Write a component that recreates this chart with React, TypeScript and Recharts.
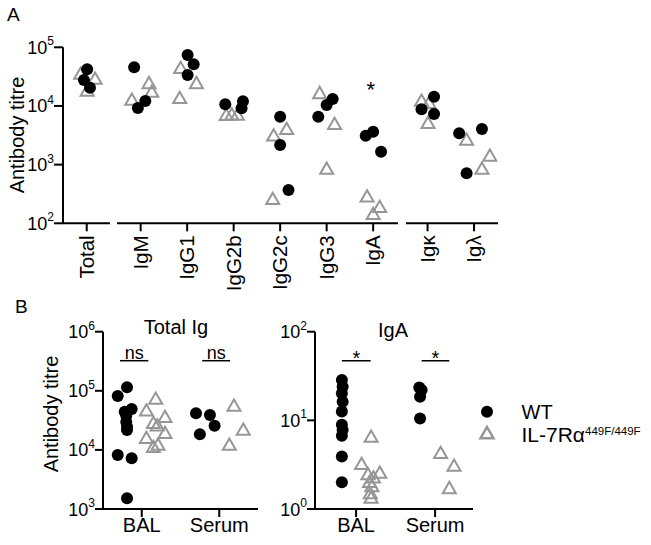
import React from "react";
import { ScatterChart, Scatter, XAxis, YAxis, ReferenceLine, ReferenceDot } from "recharts";

const FONT = "Arial, 'Liberation Sans', Helvetica, sans-serif";
const GREY = "#969696";
const W = 651;
const H = 545;

// Panel A: antibody titres by isotype (3 mice per group)
const CATS_A = ["Total", "IgM", "IgG1", "IgG2b", "IgG2c", "IgG3", "IgA", "Igκ", "Igλ"];
const WT_A = [
  [42200, 27700, 20500],
  [45600, 9230, 12160],
  [73900, 51300, 33700],
  [10670, 12020, 9120],
  [6560, 2160, 370],
  [6560, 10400, 13150],
  [3110, 3640, 1660],
  [14400, 8770, 7300],
  [3420, 4050, 711],
];
const WT_A_JIT = [
  [0.01, -0.06, 0.07],
  [-0.14, -0.06, 0.1],
  [0.01, 0.14, 0.01],
  [-0.18, 0.2, 0.17],
  [0, 0, 0.18],
  [-0.18, 0, 0.13],
  [-0.16, 0, 0.17],
  [0.14, -0.13, 0.14],
  [-0.32, 0.17, -0.16],
];
const MUT_A = [
  [35100, 28800, 18000],
  [12650, 24300, 17300],
  [43900, 24300, 13500],
  [6950, 7100, 7000],
  [3110, 4000, 257],
  [16400, 4870, 843],
  [284, 188, 143],
  [12150, 11200, 5060],
  [2630, 1400, 843],
];
const MUT_A_JIT = [
  [-0.13, 0.18, 0.01],
  [-0.19, 0.18, 0.24],
  [-0.14, 0.2, -0.16],
  [-0.16, -0.04, 0.08],
  [-0.14, 0.14, -0.16],
  [-0.15, 0.17, 0],
  [-0.13, 0.14, 0],
  [-0.13, 0.03, 0.01],
  [-0.16, 0.34, 0.17],
];
const TICKS_A = [100, 1000, 10000, 100000];

// Panel B: BAL and serum
const CATS_B = ["BAL", "Serum"];
const TOTAL_WT = [
  [114500, 81700, 49200, 44300, 37900, 29600, 24700, 21700, 8200, 7200, 1520],
  [41600, 38900, 25700, 18400],
];
const TOTAL_WT_JIT = [
  [-0.19, -0.31, -0.13, -0.22, -0.2, -0.2, -0.19, -0.19, -0.31, -0.13, -0.19],
  [-0.3, -0.12, -0.06, -0.25],
];
const TOTAL_MUT = [
  [72600, 46000, 35600, 28200, 25700, 19100, 15700, 12100, 11070],
  [55300, 21700, 12100],
];
const TOTAL_MUT_JIT = [
  [0.18, 0.06, 0.3, 0.15, 0.2, 0.3, 0.06, 0.21, 0.15],
  [0.19, 0.31, 0.13],
];
const IGA_WT = [
  [28.5, 24, 20.2, 16.2, 12.6, 8.9, 7.8, 6.7, 3.9, 2.0],
  [23.5, 22, 18.5, 10.5],
];
const IGA_WT_JIT = [
  [-0.18, -0.17, -0.18, -0.17, -0.18, -0.18, -0.17, -0.18, -0.18, -0.18],
  [-0.2, -0.17, -0.19, -0.19],
];
const IGA_MUT = [
  [6.5, 3.2, 2.55, 2.45, 2.25, 2.0, 1.8, 1.5, 1.33],
  [4.25, 3.05, 1.71],
];
const IGA_MUT_JIT = [
  [0.19, 0.07, 0.3, 0.15, 0.22, 0.17, 0.2, 0.18, 0.19],
  [0.07, 0.24, 0.18],
];
const TICKS_TOTAL = [1000, 10000, 100000, 1000000];
const TICKS_IGA = [1, 10, 100];
const SIG_TOTAL = ["ns", "ns"];
const SIG_IGA = ["*", "*"];

// layout: category positions and broken-axis pieces
const POS_A = [0, 1.16, 2.16, 3.16, 4.16, 5.16, 6.16, 7.33, 8.33];
const AXIS_A_PIECES = [
  [-0.51, 0.5],
  [0.652, 6.695],
  [6.866, 8.845],
];
const POS_B = [0, 1];
const BAR_TOTAL = [
  [-0.28, 0.085],
  [-0.22, 0.14],
];
const BAR_IGA = [
  [-0.18, 0.185],
  [-0.17, 0.18],
];

const toPoints = (values: number[][], jitter: number[][], pos: number[]) =>
  values.flatMap((vals, i) => vals.map((v, j) => ({ x: pos[i] + jitter[i][j], y: v })));

const Dot = (p: any) => <circle cx={p.cx} cy={p.cy} r={6} fill="#000" />;
const Tri = (p: any) => (
  <polygon
    points={`${p.cx},${p.cy - 6.5} ${p.cx + 6.5},${p.cy + 4.8} ${p.cx - 6.5},${p.cy + 4.8}`}
    fill="none"
    stroke={GREY}
    strokeWidth={2}
  />
);

const PowerTick = (p: any) => {
  const exp = Math.round(Math.log10(p.payload.value));
  return (
    <text x={p.x} y={p.y + 6.5} textAnchor="end" fontFamily={FONT} fontSize={18} fill="#000">
      10
      <tspan fontSize={12} dy={-8.5}>
        {exp}
      </tspan>
    </text>
  );
};

const CatTick = (p: any) => {
  const i = POS_A.findIndex((v) => Math.abs(v - p.payload.value) < 1e-6);
  return (
    <text
      x={p.x}
      y={p.y}
      dy="0.35em"
      transform={`rotate(-90 ${p.x} ${p.y})`}
      textAnchor="end"
      fontFamily={FONT}
      fontSize={20.5}
      fill="#000"
    >
      {CATS_A[i]}
    </text>
  );
};

const label = (txt: string, dyBase: number, size: number) => (p: any) => (
  <text x={p.cx} y={p.cy + dyBase} textAnchor="middle" fontFamily={FONT} fontSize={size} fill="#000">
    {txt}
  </text>
);

const axisStyle = { stroke: "#000", strokeWidth: 2 };
const abs: React.CSSProperties = { position: "absolute", left: 0, top: 0 };

function PanelA() {
  return (
    <div style={abs}>
      <ScatterChart width={W} height={H} margin={{ top: 47.3, right: W - 498, bottom: 0, left: 0 }}>
        <XAxis
          type="number"
          dataKey="x"
          domain={[-0.51, 8.845]}
          ticks={POS_A}
          interval={0}
          allowDataOverflow
          axisLine={false}
          stroke="#000"
          tickLine={axisStyle}
          tickSize={8}
          tickMargin={4}
          height={H - 223.3}
          tick={(p: any) => <CatTick {...p} />}
        />
        <YAxis
          type="number"
          dataKey="y"
          scale="log"
          domain={[100, 100000]}
          ticks={TICKS_A}
          interval={0}
          allowDataOverflow
          width={63}
          stroke="#000"
          axisLine={axisStyle}
          tickLine={axisStyle}
          tickSize={9}
          tickMargin={0}
          tick={(p: any) => <PowerTick {...p} />}
        />
        {AXIS_A_PIECES.map(([a, b], i) => (
          <ReferenceLine
            key={i}
            segment={[{ x: a, y: 100 }, { x: b, y: 100 }]}
            stroke="#000"
            strokeWidth={2}
            ifOverflow="visible"
          />
        ))}
        <Scatter data={toPoints(MUT_A, MUT_A_JIT, POS_A)} shape={Tri} isAnimationActive={false} />
        <Scatter data={toPoints(WT_A, WT_A_JIT, POS_A)} shape={Dot} isAnimationActive={false} />
        <ReferenceDot x={POS_A[6] - 0.05} y={22000} r={0} shape={label("*", 11, 22)} ifOverflow="visible" />
      </ScatterChart>
    </div>
  );
}

function PanelB({
  left,
  right,
  domain,
  yDomain,
  ticks,
  wt,
  wtJit,
  mut,
  mutJit,
  sig,
  bars,
  barY,
  sigDy,
  sigSize,
}: any) {
  return (
    <div style={abs}>
      <ScatterChart width={W} height={H} margin={{ top: 331.7, right: W - right, bottom: 0, left: 0 }}>
        <XAxis
          type="number"
          dataKey="x"
          domain={domain}
          ticks={POS_B}
          interval={0}
          allowDataOverflow
          stroke="#000"
          axisLine={axisStyle}
          tickLine={axisStyle}
          tickSize={8}
          tickMargin={1}
          height={H - 509}
          tick={{ fontSize: 20, fill: "#000", fontFamily: FONT }}
          tickFormatter={(v: number) => CATS_B[Math.round(v)]}
        />
        <YAxis
          type="number"
          dataKey="y"
          scale="log"
          domain={yDomain}
          ticks={ticks}
          interval={0}
          allowDataOverflow
          width={left}
          stroke="#000"
          axisLine={axisStyle}
          tickLine={axisStyle}
          tickSize={8}
          tickMargin={0}
          tick={(p: any) => <PowerTick {...p} />}
        />
        {bars.map(([a, b]: number[], i: number) => (
          <ReferenceLine
            key={`bar${i}`}
            segment={[{ x: POS_B[i] + a, y: barY }, { x: POS_B[i] + b, y: barY }]}
            stroke="#000"
            strokeWidth={1.5}
            ifOverflow="visible"
          />
        ))}
        {bars.map(([a, b]: number[], i: number) => (
          <ReferenceDot
            key={`sig${i}`}
            x={POS_B[i] + (a + b) / 2}
            y={barY}
            r={0}
            shape={label(sig[i], sigDy, sigSize)}
            ifOverflow="visible"
          />
        ))}
        <Scatter data={toPoints(mut, mutJit, POS_B)} shape={Tri} isAnimationActive={false} />
        <Scatter data={toPoints(wt, wtJit, POS_B)} shape={Dot} isAnimationActive={false} />
      </ScatterChart>
    </div>
  );
}

function Overlay() {
  const t = { fontFamily: FONT, fill: "#000" };
  return (
    <svg width={W} height={H} style={{ ...abs, pointerEvents: "none" }}>
      <text x={7} y={21} fontSize={19} {...t}>A</text>
      <text x={15} y={313} fontSize={19} {...t}>B</text>
      <text x={17} y={135} fontSize={20} textAnchor="middle" dominantBaseline="central" transform="rotate(-90 17 135)" {...t}>
        Antibody titre
      </text>
      <text x={51} y={414} fontSize={20} textAnchor="middle" dominantBaseline="central" transform="rotate(-90 51 414)" {...t}>
        Antibody titre
      </text>
      <text x={176} y={334} fontSize={20} textAnchor="middle" {...t}>Total Ig</text>
      <text x={393} y={337} fontSize={20} textAnchor="middle" {...t}>IgA</text>
      <circle cx={487} cy={411.7} r={6} fill="#000" />
      <polygon points="487,427 493.5,438.3 480.5,438.3" fill="none" stroke={GREY} strokeWidth={2.5} />
      <text x={521.5} y={418.5} fontSize={20} {...t}>WT</text>
      <text x={521.5} y={441.7} fontSize={21} {...t}>
        IL-7Rα
        <tspan fontSize={11.5} dy={-7}>449F/449F</tspan>
      </text>
    </svg>
  );
}

export default function App() {
  return (
    <div style={{ ...abs, width: W, height: H, background: "#fff" }}>
      <PanelA />
      <PanelB
        left={103}
        right={258}
        domain={[-0.5, 1.5]}
        yDomain={[1000, 1000000]}
        ticks={TICKS_TOTAL}
        wt={TOTAL_WT}
        wtJit={TOTAL_WT_JIT}
        mut={TOTAL_MUT}
        mutJit={TOTAL_MUT_JIT}
        sig={SIG_TOTAL}
        bars={BAR_TOTAL}
        barY={323000}
        sigDy={-2}
        sigSize={18}
      />
      <PanelB
        left={315}
        right={473}
        domain={[-0.52, 1.48]}
        yDomain={[1, 100]}
        ticks={TICKS_IGA}
        wt={IGA_WT}
        wtJit={IGA_WT_JIT}
        mut={IGA_MUT}
        mutJit={IGA_MUT_JIT}
        sig={SIG_IGA}
        bars={BAR_IGA}
        barY={47}
        sigDy={4}
        sigSize={20}
      />
      <Overlay />
    </div>
  );
}
